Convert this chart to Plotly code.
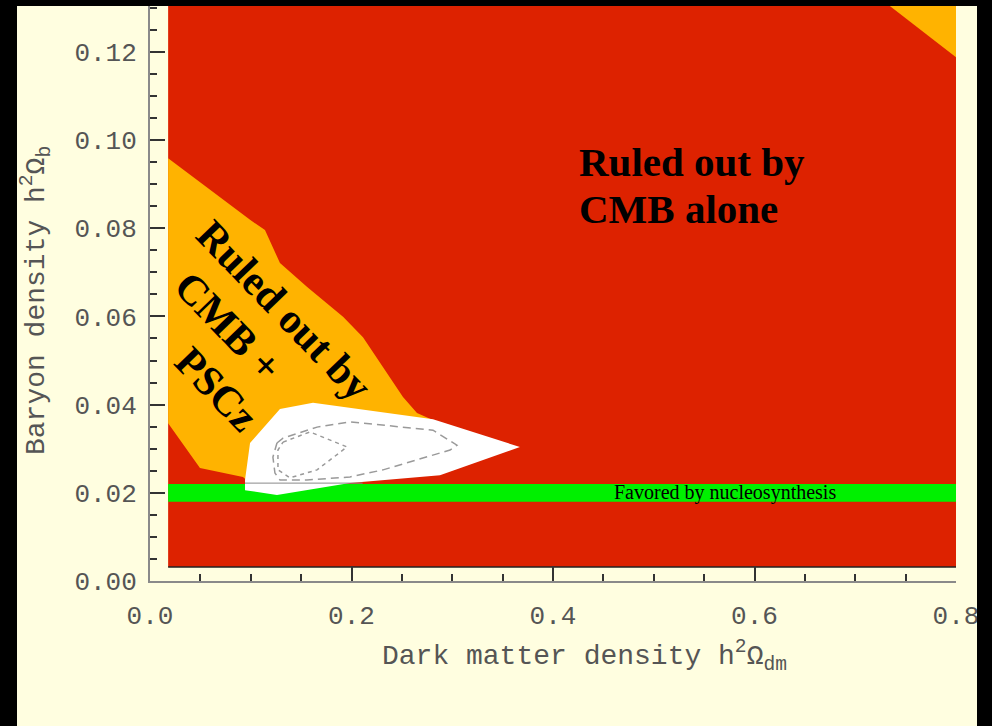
import plotly.graph_objects as go

# ---------------- data ----------------
x_range = [0.0, 0.8]
y_range = [0.0, 0.1304]
x_tick_vals = [0.0, 0.2, 0.4, 0.6, 0.8]
x_tick_text = ["0.0", "0.2", "0.4", "0.6", "0.8"]
y_tick_vals = [0.00, 0.02, 0.04, 0.06, 0.08, 0.10, 0.12]
y_tick_text = ["0.00", "0.02", "0.04", "0.06", "0.08", "0.10", "0.12"]

# region ruled out by CMB alone (the full explored grid)
cmb_x = [0.018, 0.8, 0.8, 0.018, 0.018]
cmb_y = [0.0032, 0.0032, 0.14, 0.14, 0.0032]

# region ruled out by CMB + PSCz (left lobe)
pscz_x = [0.018, 0.0993, 0.1141, 0.129, 0.156, 0.1916, 0.2114, 0.2283, 0.2511,
          0.265, 0.2829, 0.25, 0.10, 0.0923, 0.0496, 0.018, 0.018]
pscz_y = [0.0959, 0.0819, 0.0796, 0.0721, 0.0667, 0.0599, 0.0553, 0.0494, 0.0417,
          0.0381, 0.0363, 0.028, 0.022, 0.0236, 0.0256, 0.0358, 0.0959]

# region ruled out by CMB + PSCz (top-right corner)
pscz2_x = [0.680, 0.8, 0.8, 0.680]
pscz2_y = [0.14, 0.14, 0.1188, 0.14]

# nucleosynthesis band
bbn_x = [0.018, 0.8, 0.8, 0.018, 0.018]
bbn_y = [0.018, 0.018, 0.022, 0.022, 0.018]

# allowed region
allowed_x = [0.0943, 0.0943, 0.0993, 0.129, 0.1618, 0.2809, 0.3672, 0.2878,
             0.1985, 0.1687, 0.126, 0.0943]
allowed_y = [0.0206, 0.0229, 0.0313, 0.0390, 0.0404, 0.0367, 0.0304, 0.0240,
             0.0222, 0.0211, 0.0195, 0.0206]

# inner confidence contours
outer_x = [0.126, 0.132, 0.1658, 0.1985, 0.2809, 0.3047, 0.2978, 0.2313, 0.1985,
           0.1558, 0.129, 0.124, 0.122, 0.126]
outer_y = [0.0313, 0.0324, 0.0349, 0.0361, 0.0342, 0.0308, 0.0297, 0.0252, 0.0236,
           0.0229, 0.0229, 0.0245, 0.0281, 0.0313]
inner_x = [0.132, 0.1588, 0.1955, 0.1658, 0.139, 0.127, 0.127, 0.132]
inner_y = [0.0315, 0.0338, 0.0304, 0.0252, 0.0234, 0.0252, 0.0297, 0.0315]

# ---------------- figure ----------------
RED = "#DD2200"
ORANGE = "#FFB300"
GREEN = "#00F000"
BG = "#FFFEE0"
AXIS_FONT = "Liberation Mono"

fig = go.Figure()


def poly(x, y, color, line_color=None, width=0):
    fig.add_trace(go.Scatter(
        x=x, y=y, mode="lines", fill="toself", fillcolor=color,
        line=dict(color=line_color or color, width=width),
        hoverinfo="skip", showlegend=False))


poly(cmb_x, cmb_y, RED)
poly(pscz_x, pscz_y, ORANGE)
poly(pscz2_x, pscz2_y, ORANGE)
poly(bbn_x, bbn_y, GREEN)
poly(allowed_x, allowed_y, "#FFFFFF")

fig.add_trace(go.Scatter(x=outer_x, y=outer_y, mode="lines",
                         line=dict(color="#9a9a9a", width=1.5, dash="8px,5px"),
                         hoverinfo="skip", showlegend=False))
fig.add_trace(go.Scatter(x=inner_x, y=inner_y, mode="lines",
                         line=dict(color="#9a9a9a", width=1.5, dash="4px,4px"),
                         hoverinfo="skip", showlegend=False))
# band edge line and bottom edge of grid
fig.add_trace(go.Scatter(x=[allowed_x[0], 0.211], y=[0.0222, 0.0222], mode="lines",
                         line=dict(color="#8a8a8a", width=1),
                         hoverinfo="skip", showlegend=False))
fig.add_trace(go.Scatter(x=[cmb_x[0], cmb_x[1]], y=[cmb_y[0], cmb_y[1]], mode="lines",
                         line=dict(color="#222222", width=1.5),
                         hoverinfo="skip", showlegend=False))

# ---------------- annotations ----------------
serif_bold = dict(family="Liberation Serif", size=41, color="#000000")
ann = []
ann.append(dict(x=0.4238, y=0.0950, xref="x", yref="y", text="<b>Ruled out by</b>",
                showarrow=False, xanchor="left", yanchor="middle", font=serif_bold))
ann.append(dict(x=0.4238, y=0.0844, xref="x", yref="y", text="<b>CMB alone</b>",
                showarrow=False, xanchor="left", yanchor="middle", font=serif_bold))

rot_font = dict(family="Liberation Serif", size=42, color="#000000")
for txt, xx, yy in [("Ruled out by", 0.1330, 0.0615),
                    ("CMB +", 0.0770, 0.0578),
                    ("PSCz", 0.0660, 0.0436)]:
    ann.append(dict(x=xx, y=yy, xref="x", yref="y", text="<b>" + txt + "</b>",
                    showarrow=False, textangle=46, xanchor="center", yanchor="middle",
                    font=rot_font))

ann.append(dict(x=0.571, y=0.020, xref="x", yref="y", text="Favored by nucleosynthesis",
                showarrow=False, xanchor="center", yanchor="middle",
                font=dict(family="Liberation Serif", size=20, color="#000000")))

# axis titles
ann.append(dict(x=0.5397, y=-0.130, xref="paper", yref="paper",
                text="Dark matter density h<sup>2</sup>Ω<sub>dm</sub>",
                showarrow=False, xanchor="center", yanchor="middle",
                font=dict(family=AXIS_FONT, size=28, color="#555555")))
ann.append(dict(x=-0.1414, y=0.487, xref="paper", yref="paper",
                text="Baryon density h<sup>2</sup>Ω<sub>b</sub>",
                showarrow=False, textangle=-90, xanchor="center", yanchor="middle",
                font=dict(family=AXIS_FONT, size=28, color="#555555")))

# black frame around the picture
shapes = [
    dict(type="rect", xref="paper", yref="paper", x0=-0.3, x1=(17 - 150) / 806,
         y0=-0.5, y1=1.5, fillcolor="#000000", line=dict(width=0), layer="above"),
    dict(type="rect", xref="paper", yref="paper", x0=(977 - 150) / 806, x1=1.3,
         y0=-0.5, y1=1.5, fillcolor="#000000", line=dict(width=0), layer="above"),
    dict(type="rect", xref="paper", yref="paper", x0=-0.3, x1=1.3,
         y0=1.0, y1=1.5, fillcolor="#000000", line=dict(width=0), layer="above"),
]

fig.update_layout(
    width=992, height=726, autosize=False,
    margin=dict(l=150, r=36, t=6, b=145, pad=0),
    paper_bgcolor=BG, plot_bgcolor=BG,
    showlegend=False,
    annotations=ann, shapes=shapes,
    xaxis=dict(range=x_range, showgrid=False, zeroline=False,
               showline=True, linecolor="#8a8a8a", linewidth=2,
               ticks="inside", ticklen=15, tickwidth=2, tickcolor="#333333",
               tickvals=x_tick_vals, ticktext=x_tick_text,
               tickfont=dict(family=AXIS_FONT, size=26, color="#555555"),
               ticklabelstandoff=10,
               minor=dict(ticks="inside", ticklen=7, tickwidth=1.5, tickcolor="#333333",
                          dtick=0.05, tick0=0, showgrid=False)),
    yaxis=dict(range=y_range, showgrid=False, zeroline=False,
               showline=True, linecolor="#8a8a8a", linewidth=2,
               ticks="inside", ticklen=15, tickwidth=2, tickcolor="#333333",
               tickvals=y_tick_vals, ticktext=y_tick_text,
               tickfont=dict(family=AXIS_FONT, size=26, color="#555555"),
               ticklabelstandoff=6,
               minor=dict(ticks="inside", ticklen=7, tickwidth=1.5, tickcolor="#333333",
                          dtick=0.005, tick0=0, showgrid=False)),
)

fig.write_html("out.html")
